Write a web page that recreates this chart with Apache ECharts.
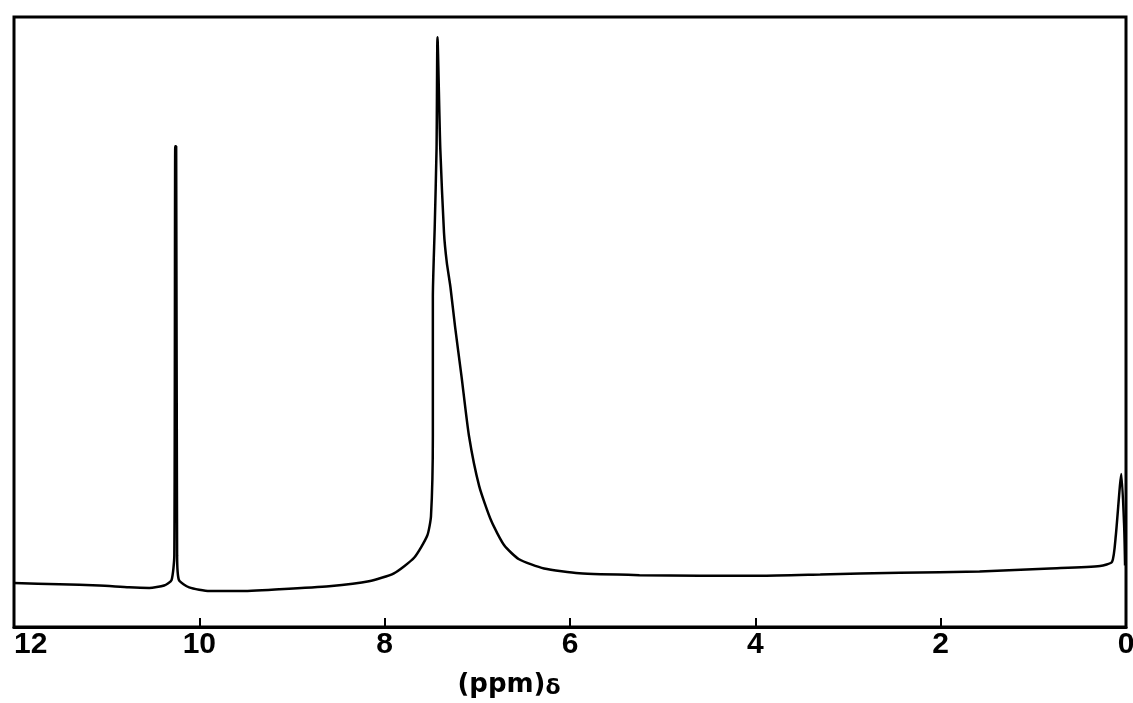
<!DOCTYPE html>
<html>
<head>
<meta charset="utf-8">
<script src="https://cdn.jsdelivr.net/npm/echarts@6/dist/echarts.min.js"></script>
<style>
  html, body { margin: 0; padding: 0; background: #fff; }
  #chart { width: 1133px; height: 703px; }
</style>
</head>
<body>
<div id="chart"></div>
<script>
    // chemical shift (ppm) and intensity (0-100 of frame height)
    var shift = [12.0, 11.51, 11.08, 10.76, 10.54, 10.38, 10.30, 10.27, 10.26, 10.25, 10.24, 10.22,
        10.11, 9.89, 9.57, 9.14, 8.60, 8.17, 7.90, 7.68, 7.54, 7.50, 7.48, 7.48, 7.46, 7.44, 7.43,
        7.40, 7.36, 7.33, 7.29, 7.24, 7.17, 7.09, 6.98, 6.85, 6.71, 6.55, 6.28, 5.90, 5.25, 4.60,
        3.95, 3.30, 2.44, 1.58, 0.82, 0.28, 0.15, 0.11, 0.05, 0.02, 0.01];
    var intensity = [7.2, 7.0, 6.8, 6.5, 6.4, 6.8, 7.7, 11.7, 78.8, 78.8, 11.7, 7.7,
        6.5, 5.9, 5.9, 6.2, 6.7, 7.5, 8.8, 11.4, 15.0, 18.2, 31.3, 54.1, 65.5, 78.5, 96.7,
        78.5, 64.7, 59.8, 55.7, 49.2, 41.0, 31.3, 23.1, 17.4, 13.4, 11.1, 9.6, 8.8, 8.5, 8.4,
        8.4, 8.6, 8.9, 9.1, 9.6, 10.0, 10.7, 15.0, 25.1, 16.6, 10.1];
    var ticks = [0, 2, 4, 6, 8, 10, 12];

    var spectrum = [];
    for (var i = 0; i < shift.length; i++) {
        spectrum.push([shift[i], intensity[i]]);
    }

    var chart = echarts.init(document.getElementById('chart'));
    var option = {
        animation: false,
        backgroundColor: '#fff',
        grid: {
            left: 14,
            right: 7,
            top: 17,
            bottom: 76,
            outerBoundsMode: 'none',
            containLabel: false,
            show: true,
            borderColor: '#000',
            borderWidth: 3
        },
        xAxis: {
            type: 'value',
            inverse: true,
            min: 0,
            max: 12,
            interval: 2,
            name: '(ppm){d|δ}',
            nameLocation: 'middle',
            nameGap: 44,
            nameTextStyle: {
                color: '#000',
                fontFamily: 'DejaVu Sans',
                fontWeight: 'bold',
                fontSize: 26,
                padding: [0, 122, 0, 0],
                rich: {
                    d: {
                        color: '#000',
                        fontFamily: 'DejaVu Sans',
                        fontWeight: 'bold',
                        fontSize: 22,
                        padding: [6, 0, 0, 0]
                    }
                }
            },
            axisLine: { lineStyle: { color: '#000', width: 3 } },
            axisTick: { inside: true, length: 9, lineStyle: { color: '#000', width: 2 } },
            splitLine: { show: false },
            axisLabel: {
                color: '#000',
                fontFamily: 'Liberation Sans',
                fontWeight: 'bold',
                fontSize: 30,
                margin: 3,
                alignMaxLabel: 'left',
                alignMinLabel: 'center',
                formatter: function (v) {
                    return ticks.indexOf(v) >= 0 ? String(v) : '';
                }
            }
        },
        yAxis: {
            type: 'value',
            min: 0,
            max: 100,
            show: false
        },
        series: [
            {
                type: 'line',
                data: spectrum,
                showSymbol: false,
                smooth: 0.2,
                lineStyle: { color: '#000', width: 2.5 }
            }
        ]
    };
    chart.setOption(option);
</script>
</body>
</html>
